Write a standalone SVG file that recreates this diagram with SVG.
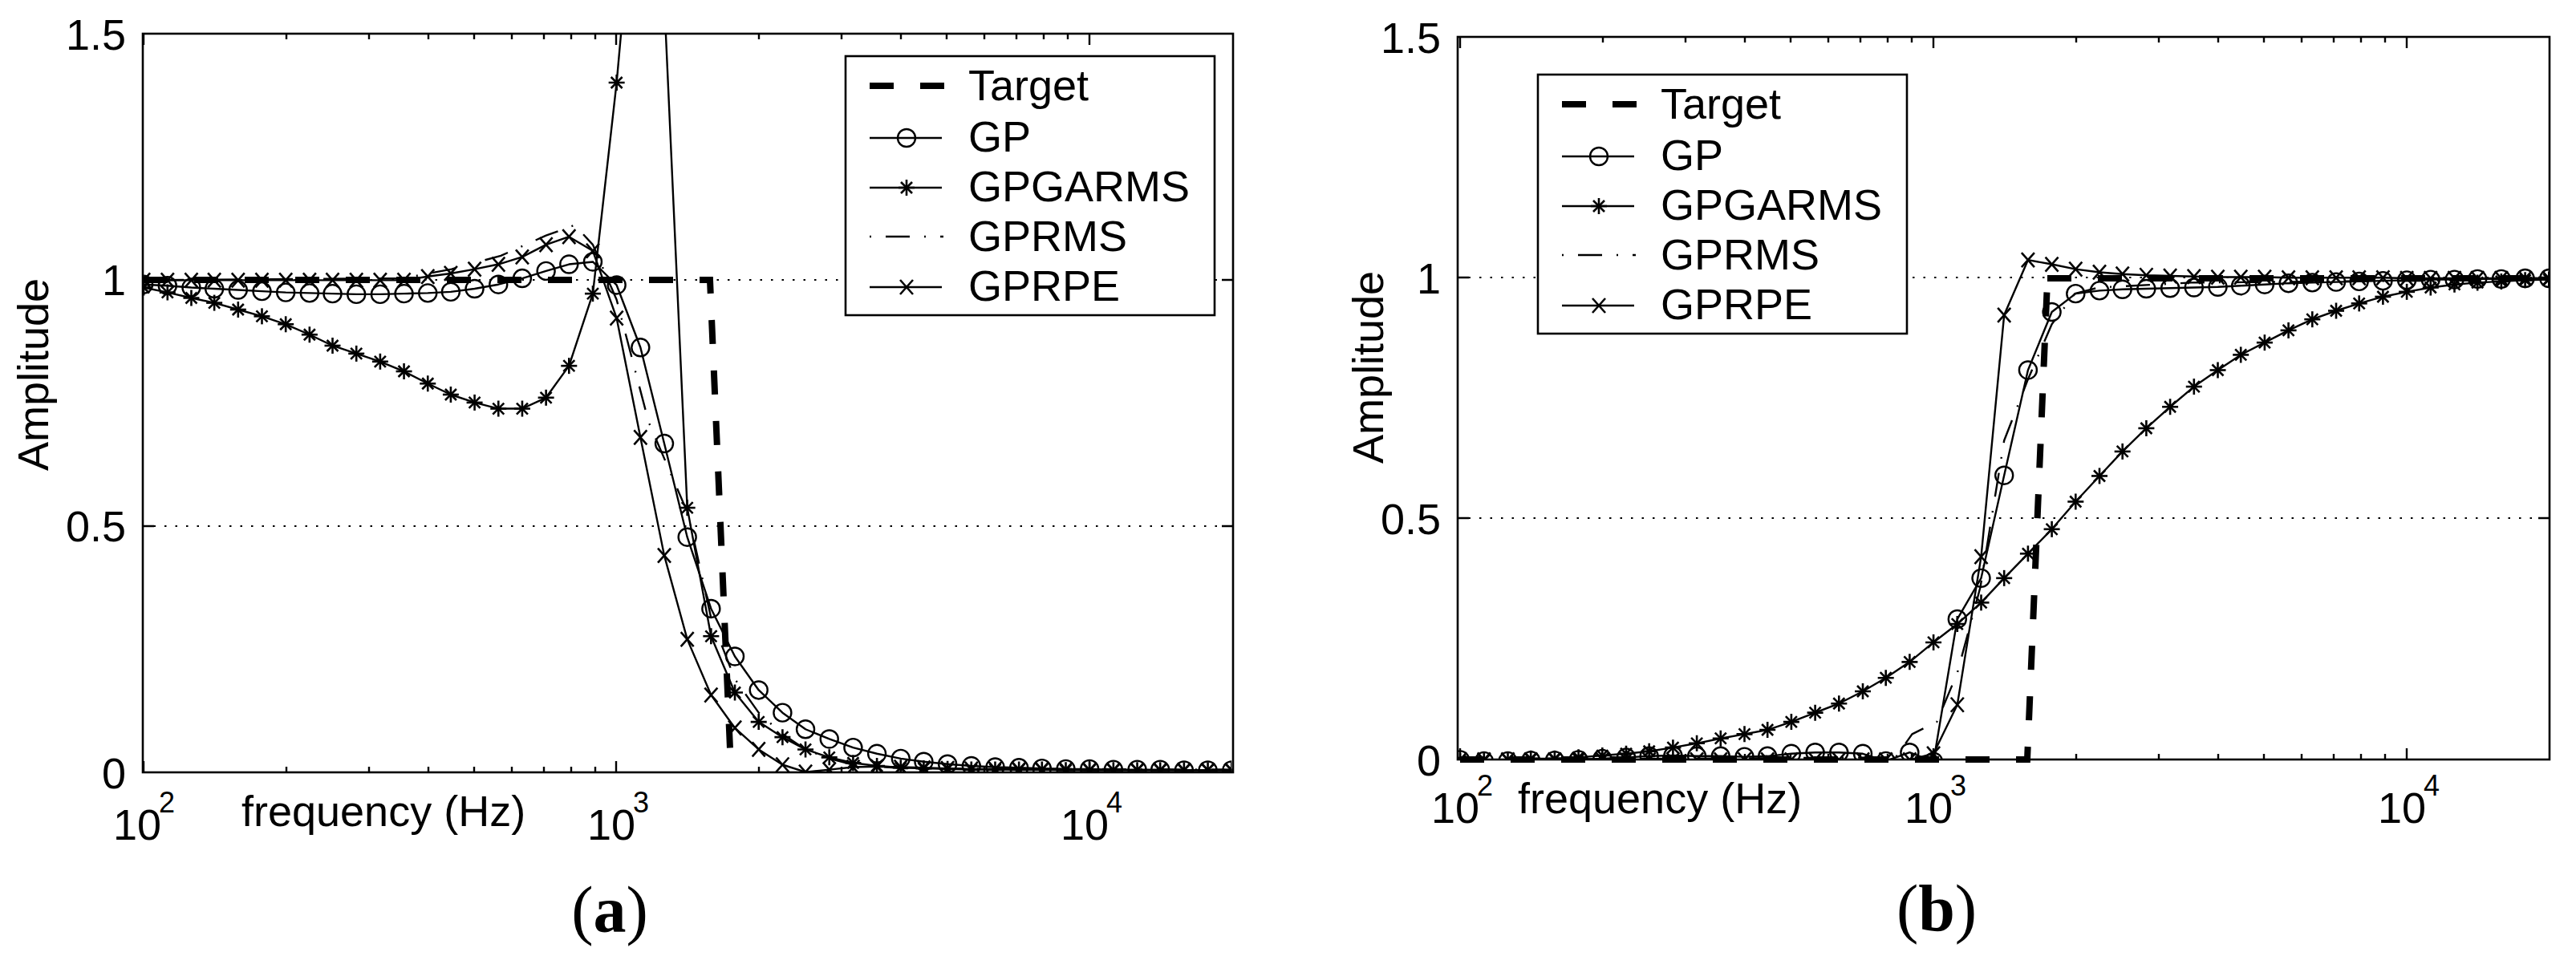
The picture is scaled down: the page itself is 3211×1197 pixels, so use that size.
<svg xmlns="http://www.w3.org/2000/svg" xmlns:xlink="http://www.w3.org/1999/xlink" width="3211" height="1197" viewBox="0 0 3211 1197">
<style>
text{font-family:"Liberation Sans",Arial,sans-serif;font-size:54px;fill:#000}
.sup{font-size:36px}
.cap{font-family:"Liberation Serif","Times New Roman",serif;font-size:82px}
.ax{fill:none;stroke:#000;stroke-width:2.6}
.tk{stroke:#000;stroke-width:2.4}
.grid{stroke:#000;stroke-width:2;stroke-dasharray:2.5 11}
.ln{fill:none;stroke:#000;stroke-width:2.4;vector-effect:non-scaling-stroke;stroke-linejoin:round}
.tgt{fill:none;stroke:#000;stroke-width:8;stroke-dasharray:30 33}
.dd{fill:none;stroke:#000;stroke-width:2.4;stroke-dasharray:2 18 30 18}
.lg{fill:#fff;stroke:#000;stroke-width:2.6}
</style>
<defs>
<g id="so"><circle r="11" fill="none" stroke="#000" stroke-width="2.4"/></g>
<g id="sa" stroke="#000" stroke-width="2.6"><line x1="-10" y1="0" x2="10" y2="0"/><line x1="0" y1="-10" x2="0" y2="10"/><line x1="-7" y1="-7" x2="7" y2="7"/><line x1="-7" y1="7" x2="7" y2="-7"/></g>
<g id="sx" stroke="#000" stroke-width="2.6"><line x1="-8" y1="-9" x2="8" y2="9"/><line x1="-8" y1="9" x2="8" y2="-9"/></g>
<marker id="mo" markerUnits="userSpaceOnUse" refX="0" refY="0" markerWidth="1" markerHeight="1" overflow="visible"><g transform="scale(0.977,1.311)"><use xlink:href="#so"/></g></marker>
<marker id="ma" markerUnits="userSpaceOnUse" refX="0" refY="0" markerWidth="1" markerHeight="1" overflow="visible"><g transform="scale(0.977,1.311)"><use xlink:href="#sa"/></g></marker>
<marker id="mx" markerUnits="userSpaceOnUse" refX="0" refY="0" markerWidth="1" markerHeight="1" overflow="visible"><g transform="scale(0.977,1.311)"><use xlink:href="#sx"/></g></marker>
<clipPath id="ca"><rect x="175" y="55" width="1325" height="1207"/></clipPath>
<clipPath id="cb"><rect x="207" y="60" width="1328" height="1182"/></clipPath>
</defs>

<g id="panel-a">
<line class="grid" x1="178" y1="349" x2="1537" y2="349"/>
<line class="grid" x1="178" y1="656" x2="1537" y2="656"/>
<g id="ticks-a" class="tk">
<path d="M179,963v-14M768,963v-14M1358,963v-14M179,42v14M768,42v14M1358,42v14M357,963v-7M460,963v-7M534,963v-7M591,963v-7M638,963v-7M678,963v-7M712,963v-7M742,963v-7M946,963v-7M1049,963v-7M1123,963v-7M1180,963v-7M1227,963v-7M1267,963v-7M1301,963v-7M1331,963v-7M357,42v7M460,42v7M534,42v7M591,42v7M638,42v7M678,42v7M712,42v7M742,42v7M946,42v7M1049,42v7M1123,42v7M1180,42v7M1227,42v7M1267,42v7M1301,42v7M1331,42v7M178,349h14M178,656h14M1537,349h-14M1537,656h-14"/>
</g>
<g transform="matrix(1.0235 0 0 0.7628 0 0)">
<g clip-path="url(#ca)">
<polyline class="ln" style="stroke-dasharray:2 18 30 18" points="175,458 490,455 550,440 610,418 665,385 700,368 722,400 751,490 790,690 838,840 866,1010 895,1110 924,1165 953,1200 981,1225 1010,1240 1039,1250 1100,1256 1500,1258"/>
<polyline class="ln" marker-start="url(#mo)" marker-mid="url(#mo)" marker-end="url(#mo)" points="175,465 204,467 233,470 261,472 290,474 319,476 348,478 377,479 405,480 434,481 463,481 492,480 521,479 549,477 578,472 607,465 636,455 665,443 693,432 722,428 751,466 780,568 809,725 837,878 866,995 895,1073 924,1128 953,1165 981,1192 1010,1208 1039,1222 1068,1232 1097,1240 1125,1245 1154,1249 1183,1252 1212,1254 1241,1255 1269,1256 1298,1257 1327,1257 1356,1258 1385,1258 1413,1258 1442,1259 1471,1259 1500,1259"/>
<polyline class="ln" marker-start="url(#ma)" marker-mid="url(#ma)" marker-end="url(#ma)" points="175,470 204,478 233,487 261,495 290,506 319,517 348,530 377,547 405,565 434,578 463,591 492,607 521,627 549,645 578,658 607,668 636,668 665,650 693,598 722,480 751,135 780,-300 809,0 837,830 866,1040 895,1132 924,1180 953,1205 981,1225 1010,1238 1039,1247 1068,1252 1097,1255 1125,1256 1154,1257 1183,1258 1212,1258 1241,1258 1269,1258 1298,1259 1327,1259 1356,1259 1385,1259 1413,1259 1442,1259 1471,1259 1500,1259"/>
<polyline class="ln" marker-start="url(#mx)" marker-mid="url(#mx)" marker-end="url(#mx)" points="175,458 204,458 233,458 261,458 290,458 319,458 348,458 377,458 405,458 434,458 463,458 492,458 521,452 549,447 578,440 607,432 636,420 665,400 693,387 722,410 751,520 780,715 809,908 837,1045 866,1136 895,1190 924,1225 953,1250 981,1262 1010,1258 1039,1254 1068,1253 1097,1254 1125,1255 1154,1256 1183,1257 1212,1257 1241,1258 1269,1258 1298,1258 1327,1259 1356,1259 1385,1259 1413,1259 1442,1259 1471,1259 1500,1259"/>
</g>
</g>
<path class="tgt" d="M179,349H885L911,957"/>
<rect class="ax" x="178" y="42" width="1359" height="921"/>
<g id="legend-a">
<rect class="lg" x="1054" y="70" width="460" height="323"/>
<line class="tgt" x1="1084" y1="107" x2="1178" y2="107"/>
<line class="tk" x1="1084" y1="172" x2="1174" y2="172"/><use xlink:href="#so" x="1130" y="172"/>
<line class="tk" x1="1084" y1="234" x2="1174" y2="234"/><use xlink:href="#sa" x="1130" y="234"/>
<line class="dd" x1="1084" y1="295" x2="1176" y2="295"/>
<line class="tk" x1="1084" y1="358" x2="1174" y2="358"/><use xlink:href="#sx" x="1130" y="358"/>
<text x="1207" y="125">Target</text>
<text x="1207" y="189">GP</text>
<text x="1207" y="251">GPGARMS</text>
<text x="1207" y="313">GPRMS</text>
<text x="1207" y="375">GPRPE</text>
</g>
<g id="labels-a">
<text x="157" y="62" text-anchor="end">1.5</text>
<text x="157" y="368" text-anchor="end">1</text>
<text x="157" y="675" text-anchor="end">0.5</text>
<text x="157" y="983" text-anchor="end">0</text>
<text x="141" y="1047">10</text><text class="sup" x="198" y="1013">2</text>
<text x="732" y="1047">10</text><text class="sup" x="789" y="1013">3</text>
<text x="1322" y="1047">10</text><text class="sup" x="1379" y="1013">4</text>
<text x="301" y="1030">frequency (Hz)</text>
<text transform="translate(60,467) rotate(-90)" text-anchor="middle">Amplitude</text>
<text class="cap" x="760" y="1162" text-anchor="middle">(<tspan font-weight="bold">a</tspan>)</text>
</g>
</g>

<g id="panel-b">
<line class="grid" x1="1817" y1="346" x2="3178" y2="346"/>
<line class="grid" x1="1817" y1="646" x2="3178" y2="646"/>
<g id="ticks-b" class="tk">
<path d="M1820,947v-14M2410,947v-14M3000,947v-14M1820,46v14M2410,46v14M3000,46v14M1998,947v-7M2101,947v-7M2175,947v-7M2232,947v-7M2279,947v-7M2319,947v-7M2353,947v-7M2383,947v-7M2588,947v-7M2691,947v-7M2765,947v-7M2822,947v-7M2869,947v-7M2909,947v-7M2943,947v-7M2973,947v-7M1998,46v7M2101,46v7M2175,46v7M2232,46v7M2279,46v7M2319,46v7M2353,46v7M2383,46v7M2588,46v7M2691,46v7M2765,46v7M2822,46v7M2869,46v7M2909,46v7M2943,46v7M2973,46v7M1817,346h14M1817,646h14M3178,346h-14M3178,646h-14"/>
</g>
<g transform="matrix(1.0243 0 0 0.7628 1605 0)">
<g clip-path="url(#cb)">
<polyline class="ln" style="stroke-dasharray:2 18 30 18" points="210,1242 740,1238 760,1200 790,1180 815,1100 843,960 872,720 901,620 930,530 958,480 987,470 1100,462 1535,457"/>
<polyline class="ln" marker-start="url(#ma)" marker-mid="url(#ma)" marker-end="url(#ma)" points="210,1244 239,1243 268,1242 296,1240 325,1240 354,1238 383,1235 412,1232 440,1228 469,1222 498,1215 527,1207 556,1200 584,1193 613,1180 642,1165 671,1150 700,1130 728,1108 757,1082 786,1050 815,1020 844,985 872,945 901,905 930,865 959,820 988,778 1016,738 1045,700 1074,665 1103,632 1132,605 1160,580 1189,560 1218,540 1247,522 1276,508 1304,496 1333,485 1362,477 1391,470 1420,465 1448,462 1477,460 1506,458 1535,457"/>
<polyline class="ln" marker-start="url(#mo)" marker-mid="url(#mo)" marker-end="url(#mo)" points="210,1242 239,1244 268,1244 296,1243 325,1243 354,1242 383,1240 412,1238 440,1236 469,1235 498,1236 527,1236 556,1237 584,1236 613,1232 642,1230 671,1230 700,1232 728,1244 757,1230 786,1245 815,1012 844,945 872,777 901,605 930,510 959,480 988,475 1016,473 1045,472 1074,471 1103,470 1132,469 1160,467 1189,465 1218,463 1247,462 1276,461 1304,460 1333,459 1362,458 1391,457 1420,457 1448,456 1477,456 1506,455 1535,455"/>
<polyline class="ln" marker-start="url(#mx)" marker-mid="url(#mx)" marker-end="url(#mx)" points="210,1242 239,1242 268,1242 296,1242 325,1242 354,1242 383,1242 412,1242 440,1242 469,1242 498,1242 527,1242 556,1242 584,1242 613,1242 642,1242 671,1242 700,1242 728,1242 757,1242 786,1232 815,1152 844,910 872,515 901,425 930,432 959,440 988,445 1016,448 1045,450 1074,451 1103,452 1132,453 1160,453 1189,453 1218,454 1247,454 1276,454 1304,454 1333,454 1362,455 1391,455 1420,455 1448,455 1477,455 1506,455 1535,455"/>
</g>
</g>
<path class="tgt" d="M1820,947H2527L2552,351M2552,347H3178"/>
<rect class="ax" x="1817" y="46" width="1361" height="901"/>
<g id="legend-b">
<rect class="lg" x="1917" y="93" width="460" height="323"/>
<line class="tgt" x1="1947" y1="130" x2="2041" y2="130"/>
<line class="tk" x1="1947" y1="195" x2="2037" y2="195"/><use xlink:href="#so" x="1993" y="195"/>
<line class="tk" x1="1947" y1="257" x2="2037" y2="257"/><use xlink:href="#sa" x="1993" y="257"/>
<line class="dd" x1="1947" y1="318" x2="2039" y2="318"/>
<line class="tk" x1="1947" y1="381" x2="2037" y2="381"/><use xlink:href="#sx" x="1993" y="381"/>
<text x="2070" y="148">Target</text>
<text x="2070" y="212">GP</text>
<text x="2070" y="274">GPGARMS</text>
<text x="2070" y="336">GPRMS</text>
<text x="2070" y="398">GPRPE</text>
</g>
<g id="labels-b">
<text x="1796" y="66" text-anchor="end">1.5</text>
<text x="1796" y="366" text-anchor="end">1</text>
<text x="1796" y="666" text-anchor="end">0.5</text>
<text x="1796" y="967" text-anchor="end">0</text>
<text x="1784" y="1026">10</text><text class="sup" x="1841" y="992">2</text>
<text x="2374" y="1026">10</text><text class="sup" x="2431" y="992">3</text>
<text x="2964" y="1026">10</text><text class="sup" x="3021" y="992">4</text>
<text x="1892" y="1014">frequency (Hz)</text>
<text transform="translate(1724,458) rotate(-90)" text-anchor="middle">Amplitude</text>
<text class="cap" x="2414" y="1160" text-anchor="middle">(<tspan font-weight="bold">b</tspan>)</text>
</g>
</g>
</svg>
